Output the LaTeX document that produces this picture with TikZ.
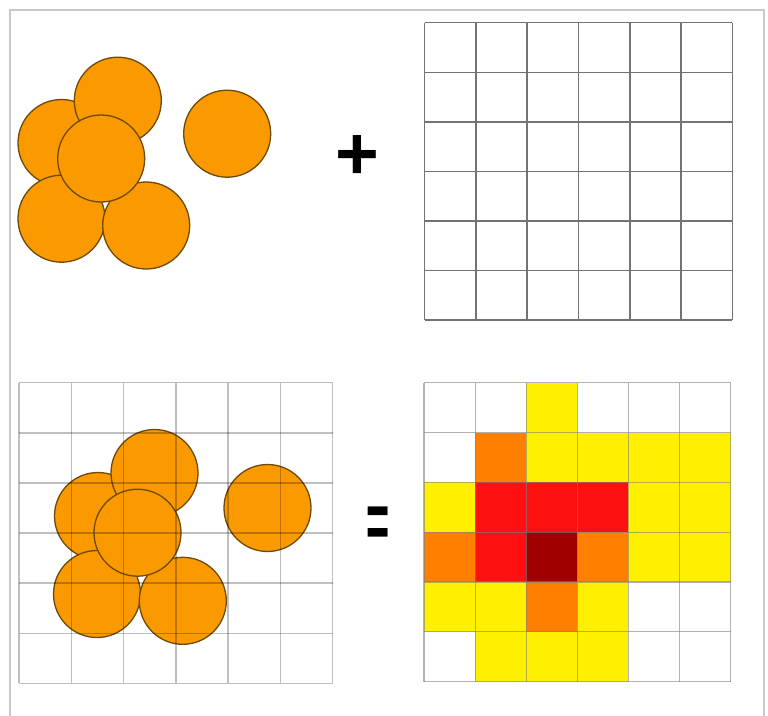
\documentclass[tikz,border=0pt]{standalone}
\usepackage{fontspec}
\setmainfont{Liberation Sans}
\usepackage{tikz}
\definecolor{ballfill}{HTML}{FA9A00}
\definecolor{ballline}{HTML}{6E4A08}
\definecolor{hW}{HTML}{FFFFFF}
\definecolor{hY}{HTML}{FFF000}
\definecolor{hO}{HTML}{FF8000}
\definecolor{hR}{HTML}{FF1010}
\definecolor{hD}{HTML}{A00000}
\definecolor{frameg}{HTML}{C8C8C8}
\tikzset{
  ball/.style    ={circle, draw=ballline, fill=ballfill, line width=1.3pt,
                   minimum size=87pt, inner sep=0pt},
  plaingrid/.style={draw=black!55, line width=1.5pt},
  overgrid/.style ={draw=black, draw opacity=0.25, line width=1.4pt},
  heatgrid/.style ={draw=black!50, draw opacity=0.6, line width=1.2pt},
  sign/.style    ={inner sep=0pt},
}

\begin{document}
\begin{tikzpicture}[x=1pt, y=-1pt]
  \useasboundingbox (0,0) rectangle (768,715);
  % frame
  \draw[frameg, line width=1.3pt] (10,716) -- (10,10) -- (764,10) -- (764,716);

  % loose particles
  \node[ball] (aleft)  at (61.5,143)   {};
  \node[ball] (atop)   at (117.8,100.7) {};
  \node[ball] (abotl)  at (61.5,218.7) {};
  \node[ball] (abotr)  at (146.2,225.5) {};
  \node[ball] (amid)   at (101.2,158.5) {};
  \node[ball] (asolo)  at (227.2,133.7) {};

  \node[sign, font=\fontsize{75}{75}\selectfont\bfseries] (plus) at (357,158) {+};

  % empty grid
  \begin{scope}[shift={(424.7,22.7)}]
    \foreach \i in {0,...,6} \draw[plaingrid] (\i*51.27,0) -- (\i*51.27,297.3);
    \foreach \j in {0,...,6} \draw[plaingrid] (0,\j*49.55) -- (307.6,\j*49.55);
  \end{scope}

  % particles on the grid
  \node[ball] (bleft)  at (98,516)     {};
  \node[ball] (btop)   at (154.5,473)  {};
  \node[ball] (bbotl)  at (97,594)     {};
  \node[ball] (bbotr)  at (182.8,600.8) {};
  \node[ball] (bmid)   at (137.5,532.7) {};
  \node[ball] (bsolo)  at (267.5,508)  {};
  \begin{scope}[shift={(19,382.7)}]
    \foreach \i in {0,...,6} \draw[overgrid] (\i*52.28,0) -- (\i*52.28,300.6);
    \foreach \j in {0,...,6} \draw[overgrid] (0,\j*50.1) -- (313.7,\j*50.1);
  \end{scope}

  \node[sign, font=\fontsize{64}{64}\selectfont\bfseries] (equals) at (377.8,527.8) {\scalebox{0.62}[1.25]{=}};

  % density map
  \begin{scope}[shift={(424,382.7)}]
    \foreach \row [count=\r from 0] in {{W,W,Y,W,W,W},{W,O,Y,Y,Y,Y},{Y,R,R,R,Y,Y},
                                         {O,R,D,O,Y,Y},{Y,Y,O,Y,W,W},{W,Y,Y,Y,W,W}}
      \foreach \c [count=\k from 0] in \row
        \fill[h\c] (\k*51.12,\r*49.83) rectangle ++(51.12,49.83);
    \foreach \i in {0,...,6} \draw[heatgrid] (\i*51.12,0) -- (\i*51.12,299);
    \foreach \j in {0,...,6} \draw[heatgrid] (0,\j*49.83) -- (306.7,\j*49.83);
  \end{scope}
\end{tikzpicture}
\end{document}
